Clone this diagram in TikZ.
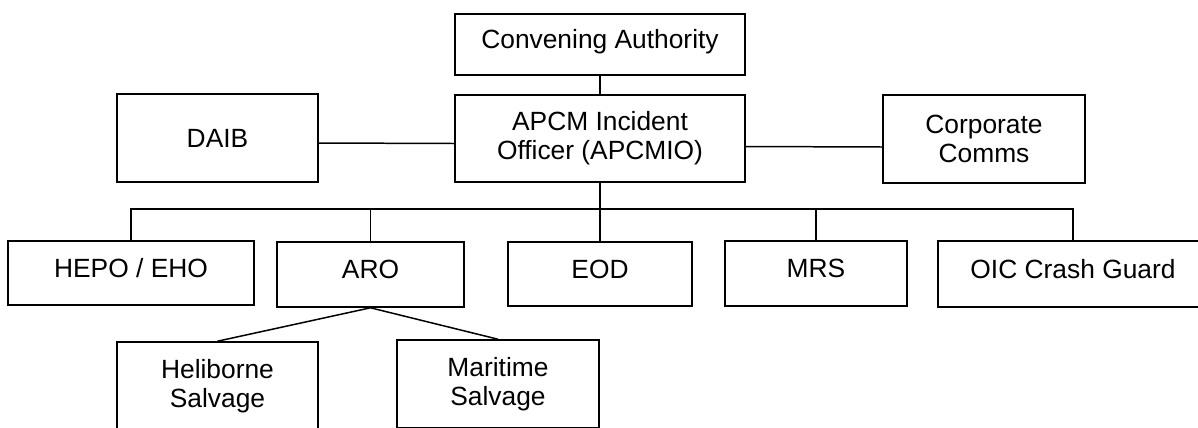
\documentclass[tikz,border=0pt]{standalone}
\usepackage{fontspec}
\setmainfont{Liberation Sans}
\usepackage{tikz}

\begin{document}
\begin{tikzpicture}[
  box/.style={draw, line width=0.9pt, align=center, inner sep=0pt, font=\fontsize{15}{16.5}\selectfont},
  rowbox/.style={box, text height=0.38cm, text depth=0.22cm},
  link/.style={line width=0.85pt}
]
\useasboundingbox (0,0) rectangle (23.96,-8.54);

% Top Row
\node[rowbox, minimum width=5.8cm, minimum height=1.22cm] (conv) at (12,-0.89) {Convening Authority};
\node[box, minimum width=5.8cm, minimum height=1.74cm] (apcm) at (12,-2.77) {APCM Incident\\Officer (APCMIO)};
\node[box, minimum width=4.02cm, minimum height=1.76cm] (daib) at (4.35,-2.76) {DAIB};
\node[box, minimum width=4.04cm, minimum height=1.76cm] (corp) at (19.68,-2.78) {Corporate\\Comms};

% Second Row
\node[rowbox, minimum width=4.92cm, minimum height=1.28cm] (hepo) at (2.62,-5.46) {HEPO / EHO};
\node[rowbox, minimum width=3.74cm, minimum height=1.30cm] (aro) at (7.41,-5.49) {ARO};
\node[rowbox, minimum width=3.68cm, minimum height=1.28cm] (eod) at (12,-5.48) {EOD};
\node[rowbox, minimum width=3.64cm, minimum height=1.30cm] (mrs) at (16.32,-5.47) {MRS};
\node[rowbox, minimum width=5.40cm, minimum height=1.32cm] (oic) at (21.46,-5.48) {OIC Crash Guard};

% Third Row
\node[box, minimum width=4.02cm, minimum height=1.76cm] (heli) at (4.35,-7.72) {Heliborne\\Salvage};
\node[box, minimum width=4.04cm, minimum height=1.76cm] (mari) at (9.96,-7.68) {Maritime\\Salvage};

\coordinate (bus) at (12,-4.18);

\draw[link] (conv) -- (apcm);
\draw[link] ([yshift=-0.1cm]daib.east) -- ([yshift=-0.1cm]apcm.west);
\draw[link] ([yshift=-0.16cm]apcm.east) -- ([yshift=-0.16cm]corp.west);
\draw[link] (apcm) -- (eod);
\draw[link] (hepo.north) |- (bus) -| (oic.north);
\draw[link] (aro.north) -- (aro.north |- bus);
\draw[link] (mrs.north) -- (mrs.north |- bus);
\draw[link] (aro.south) -- (heli.north);
\draw[link] (aro.south) -- (mari.north);

\end{tikzpicture}
\end{document}
